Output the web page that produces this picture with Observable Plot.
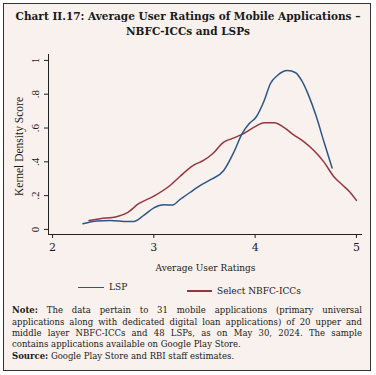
<!DOCTYPE html>
<html><head><meta charset="utf-8">
<script src="https://cdn.jsdelivr.net/npm/d3@7"></script>
<script src="https://cdn.jsdelivr.net/npm/@observablehq/plot@0.6"></script>
<style>
body{margin:0;background:#fff;}
#wrap{position:relative;width:376px;height:375px;overflow:hidden;background:#fff;color:#1a1a1a;}
#frame{position:absolute;left:3px;top:3px;width:366px;height:366px;border:1.3px solid #333;background:#f8f1ed;}
.title{position:absolute;left:0;width:376px;text-align:center;font-family:"DejaVu Serif",serif;font-weight:bold;font-size:10.5px;line-height:12px;white-space:nowrap;}
#chart{position:absolute;left:0;top:45px;}
.leg{position:absolute;font-family:"DejaVu Serif",serif;font-size:9px;line-height:10px;white-space:nowrap;}
.sw{position:absolute;height:1.6px;}
.note{position:absolute;left:12px;width:350px;font-family:"DejaVu Serif",serif;font-size:8.5px;line-height:10px;white-space:nowrap;}
.j{text-align:justify;text-align-last:justify;}
</style></head>
<body><div id="wrap">
<div id="frame"></div>
<div class="title" style="top:10px">Chart II.17: Average User Ratings of Mobile Applications –</div>
<div class="title" style="top:25px">NBFC-ICCs and LSPs</div>
<div id="chart"></div>
<div class="sw" style="left:78px;top:286.5px;width:26px;background:#2d5686"></div>
<div class="leg" style="left:109px;top:282px">LSP</div>
<div class="sw" style="left:187px;top:289.5px;width:25px;height:2px;background:#97353f"></div>
<div class="leg" style="left:217px;top:286px">Select NBFC-ICCs</div>
<div class="note j" style="top:305px"><b>Note:</b> The data pertain to 31 mobile applications (primary universal</div>
<div class="note j" style="top:316.5px">applications along with dedicated digital loan applications) of 20 upper and</div>
<div class="note j" style="top:328px">middle layer NBFC-ICCs and 48 LSPs, as on May 30, 2024. The sample</div>
<div class="note" style="top:339px">contains applications available on Google Play Store.</div>
<div class="note" style="top:350.5px"><b>Source:</b> Google Play Store and RBI staff estimates.</div>
</div>
<script>
const lspX = [2.30,2.44,2.57,2.74,2.80,2.90,3.00,3.10,3.18,3.26,3.36,3.46,3.56,3.69,3.79,3.87,3.94,4.01,4.09,4.15,4.22,4.32,4.40,4.46,4.53,4.60,4.68,4.76];
const lspY = [0.034,0.050,0.053,0.047,0.047,0.083,0.128,0.146,0.144,0.178,0.220,0.260,0.294,0.349,0.457,0.566,0.625,0.665,0.763,0.862,0.911,0.940,0.927,0.880,0.790,0.675,0.517,0.363];
const nbfcX = [2.36,2.47,2.64,2.74,2.85,3.00,3.16,3.26,3.39,3.49,3.58,3.69,3.77,3.87,3.99,4.09,4.19,4.28,4.38,4.48,4.58,4.68,4.78,4.86,4.93,5.00];
const nbfcY = [0.053,0.063,0.077,0.100,0.152,0.197,0.260,0.315,0.379,0.408,0.448,0.517,0.537,0.562,0.605,0.631,0.631,0.605,0.560,0.520,0.467,0.398,0.310,0.264,0.225,0.172];
const xTicks = [2,3,4,5];
const yTicks = [0,0.2,0.4,0.6,0.8,1];
const xTitle = "Average User Ratings";
const yTitle = "Kernel Density Score";

const lsp = lspX.map((x,i)=>({x, y: lspY[i]}));
const nbfc = nbfcX.map((x,i)=>({x, y: nbfcY[i]}));
const xDom = [1.96, 5.06], yDom = [-0.03, 1.035];
const yFmt = d => d === 0 ? "0" : d === 1 ? "1" : String(d).replace(/^0\./, ".");
const serif = "'Liberation Serif', serif";
const mid = {textAnchor: "middle", lineAnchor: "middle"};

const chart = Plot.plot({
  width: 376, height: 230,
  marginLeft: 48, marginRight: 14, marginTop: 9, marginBottom: 41,
  x: {domain: xDom}, y: {domain: yDom},
  style: {background: "transparent", color: "#1a1a1a", fontFamily: serif, fontSize: "10.5px"},
  marks: [
    Plot.ruleX([xDom[0]], {stroke: "#222", strokeWidth: 1}),
    Plot.ruleY([yDom[0]], {stroke: "#222", strokeWidth: 1}),
    Plot.axisX({ticks: xTicks, tickSize: 4, tickFormat: () => "", label: null, stroke: "#222"}),
    Plot.axisY({ticks: yTicks, tickSize: 4, tickFormat: () => "", label: null, stroke: "#222"}),
    Plot.text(xTicks, {x: d => d, frameAnchor: "bottom", dy: 12.5, text: d => String(d), fontSize: 11, fontFamily: "'DejaVu Serif', serif", ...mid}),
    Plot.text(yTicks, {y: d => d, frameAnchor: "left", dx: -13, rotate: -90, text: yFmt, fontSize: 11, ...mid}),
    Plot.text([xTitle], {frameAnchor: "bottom", dy: 33.5, text: d => d, fontSize: 9, fontFamily: "'DejaVu Serif', serif", ...mid}),
    Plot.text([yTitle], {frameAnchor: "left", dx: -29, dy: 2, rotate: -90, text: d => d, fontSize: 11.5, ...mid}),
    Plot.line(nbfc, {x: "x", y: "y", stroke: "#97353f", strokeWidth: 1.5, curve: "monotone-x"}),
    Plot.line(lsp, {x: "x", y: "y", stroke: "#2d5686", strokeWidth: 1.5, curve: "monotone-x"})
  ]
});
document.getElementById("chart").appendChild(chart);
</script>
</body></html>
